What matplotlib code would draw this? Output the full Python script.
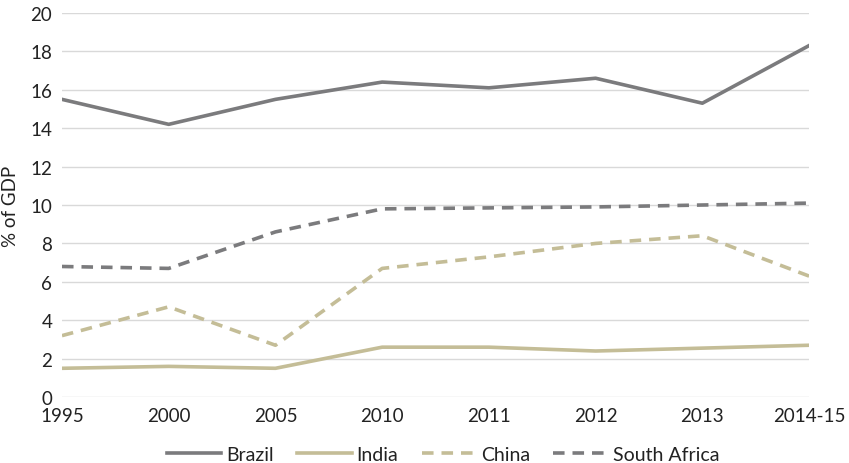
import matplotlib
matplotlib.use("Agg")
from matplotlib import pyplot as plt

# share of GDP by country
periods = ["1995", "2000", "2005", "2010", "2011", "2012", "2013", "2014-15"]
brazil = [15.5, 14.2, 15.5, 16.4, 16.1, 16.6, 15.3, 18.3]
india = [1.5, 1.6, 1.5, 2.6, 2.6, 2.4, 2.55, 2.7]
china = [3.2, 4.7, 2.7, 6.7, 7.3, 8.0, 8.4, 6.3]
south_africa = [6.8, 6.7, 8.6, 9.8, 9.85, 9.9, 10.0, 10.1]

grey = "#7b7b7d"
tan = "#c4bd97"

plt.rcParams["font.family"] = ["Lato", "DejaVu Sans"]

fig = plt.figure(figsize=(8.49, 4.64), dpi=100)
ax = fig.add_axes([0.073, 0.142, 0.880, 0.828])

x = list(range(len(periods)))
lw = 2.6
ax.plot(x, brazil, color=grey, lw=lw, label="Brazil")
ax.plot(x, india, color=tan, lw=lw, label="India")
ax.plot(x, china, color=tan, lw=lw, dashes=(3.2, 2.2), label="China")
ax.plot(x, south_africa, color=grey, lw=lw, dashes=(3.2, 2.2), label="South Africa")

ax.set_xlim(0, len(periods) - 1)
ax.set_ylim(0, 20)
ax.set_yticks(range(0, 21, 2))
ax.set_xticks(x)
ax.set_xticklabels(periods)
ax.yaxis.grid(True, color="#d9d9d9", lw=1)
ax.set_axisbelow(True)
for s in ax.spines.values():
    s.set_visible(False)
ax.tick_params(length=0, labelsize=13.5, colors="#222222", pad=7)
ax.tick_params(axis="x", pad=7)
ax.set_ylabel("% of GDP", fontsize=13.5, color="#222222", labelpad=8)

ax.legend(loc="upper center", bbox_to_anchor=(0.51, -0.082), ncol=4, frameon=False,
          fontsize=14, handlelength=2.8, handletextpad=0.25, columnspacing=1.2,
          labelcolor="#222222")

fig.savefig("out.png", dpi=100)
